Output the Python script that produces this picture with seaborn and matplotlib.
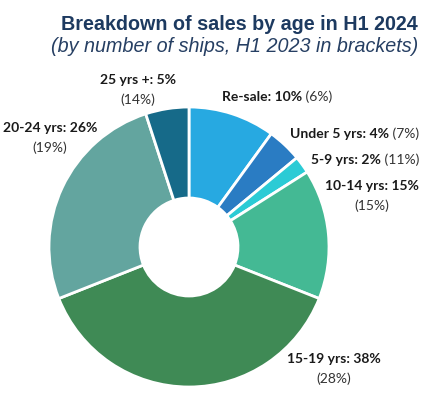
import matplotlib
matplotlib.use("Agg")
import matplotlib.pyplot as plt
import seaborn as sns

# data (share of ships sold, H1 2024 and H1 2023)
categories = ["Re-sale", "Under 5 yrs", "5-9 yrs", "10-14 yrs", "15-19 yrs", "20-24 yrs", "25 yrs +"]
share_2024 = [10, 4, 2, 15, 38, 26, 5]
share_2023 = [6, 7, 11, 15, 28, 19, 14]
slice_colors = ["#27a9e1", "#2a7cc3", "#2bcbd5", "#44b994", "#3f8a55", "#63a59f", "#166a89"]

sns.set_theme(style="white")
plt.rcParams['font.family'] = ['Lato', 'DejaVu Sans']

fig = plt.figure(figsize=(4.23, 3.98), dpi=100)
W, H = 423, 398

# donut centred at (189, 247) px, outer radius 140 px
ax = fig.add_axes([(189 - 140) / W, (H - 247 - 140) / H, 280 / W, 280 / H])
ax.pie(share_2024, colors=sns.color_palette(slice_colors), startangle=90, counterclock=False,
       radius=1, wedgeprops={'width': 0.65, 'edgecolor': 'white', 'linewidth': 2})
ax.set_xlim(-1, 1)
ax.set_ylim(-1, 1)
ax.set_aspect('equal')
ax.axis('off')

# label layout: (x px, y px, anchor side, two lines?)
label_pos = {
    "Re-sale": (222, 97, 'left', False),
    "Under 5 yrs": (419, 134, 'right', False),
    "5-9 yrs": (419, 160, 'right', False),
    "10-14 yrs": (419, 186, 'right', True),
    "15-19 yrs": (287, 359, 'left', True),
    "20-24 yrs": (3, 128, 'left', True),
    "25 yrs +": (100, 80, 'left', True),
}

txt_col = "#1a1a1a"
sub_col = "#333333"
fs = 10
renderer = fig.canvas.get_renderer()
for cat, v24, v23 in zip(categories, share_2024, share_2023):
    x, y, side, two = label_pos[cat]
    t = fig.text(x / W, 1 - y / H, f"{cat}: {v24}%", fontsize=fs, fontweight='bold',
                 color=txt_col, ha=side, va='center')
    if two:
        bb = t.get_window_extent(renderer)
        cx = (bb.x0 + bb.x1) / 2
        fig.text(cx / W, 1 - (y + 20) / H, f"({v23}%)", fontsize=fs, color=sub_col,
                 ha='center', va='center')
    else:
        s = fig.text(0, 0, f" ({v23}%)", fontsize=fs, color=sub_col, ha='left', va='center')
        wt = t.get_window_extent(renderer).width
        ws = s.get_window_extent(renderer).width
        x0 = x if side == 'left' else x - wt - ws
        t.set_ha('left')
        t.set_x(x0 / W)
        s.set_position(((x0 + wt) / W, 1 - y / H))

fig.text(418 / W, 1 - 24 / H, "Breakdown of sales by age in H1 2024", fontsize=14.2,
         fontweight='bold', color="#1d3a60", ha='right', va='center', family='Liberation Sans')
fig.text(418 / W, 1 - 47 / H, "(by number of ships, H1 2023 in brackets)", fontsize=14.2,
         style='italic', color="#263f63", ha='right', va='center', family='Liberation Sans')

fig.savefig("out.png", dpi=100)
